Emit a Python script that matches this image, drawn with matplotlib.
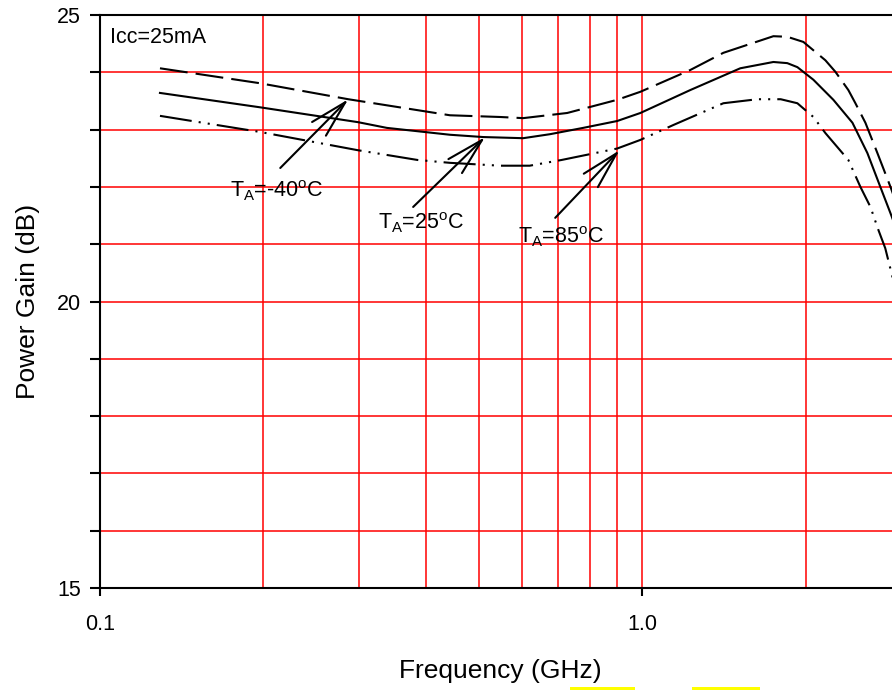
import numpy as np
import matplotlib
matplotlib.use("Agg")
import matplotlib.pyplot as plt
from matplotlib.patches import Rectangle
from matplotlib.ticker import FixedLocator, NullFormatter, FixedFormatter

plt.rcParams['font.family'] = ['Liberation Sans', 'DejaVu Sans']

# --- данные ---
freq_m40 = [0.129, 0.197, 0.287, 0.442, 0.547, 0.603, 0.727, 0.899, 0.992, 1.226,
            1.411, 1.745, 1.851, 1.982, 2.176, 2.270, 2.399, 2.472, 2.579, 2.714, 2.869, 3.0]
gain_m40 = [24.07, 23.81, 23.53, 23.25, 23.22, 23.20, 23.29, 23.52, 23.66, 24.04,
            24.34, 24.63, 24.62, 24.53, 24.21, 24.01, 23.69, 23.46, 23.12, 22.59, 22.00, 21.49]

freq_25 = [0.129, 0.197, 0.299, 0.338, 0.442, 0.509, 0.603, 0.676, 0.778, 0.899, 0.992,
           1.226, 1.516, 1.745, 1.851, 1.932, 2.068, 2.251, 2.441, 2.601, 2.748, 2.869, 3.0]
gain_25 = [23.64, 23.39, 23.13, 23.03, 22.91, 22.87, 22.85, 22.92, 23.03, 23.15, 23.29,
           23.69, 24.07, 24.18, 24.16, 24.09, 23.87, 23.52, 23.12, 22.59, 22.00, 21.54, 21.05]

freq_85 = [0.129, 0.197, 0.299, 0.385, 0.442, 0.547, 0.620, 0.710, 0.790, 0.899, 0.992,
           1.141, 1.411, 1.630, 1.800, 1.932, 2.068, 2.176, 2.399, 2.525, 2.635, 2.725,
           2.806, 2.893, 3.0]
gain_85 = [23.24, 22.96, 22.64, 22.47, 22.42, 22.37, 22.37, 22.47, 22.56, 22.67, 22.82,
           23.08, 23.46, 23.53, 23.53, 23.46, 23.22, 22.94, 22.47, 22.00, 21.65, 21.25,
           20.93, 20.43, 19.90]

# подписи: текст, позиция текста, начало стрелки, острие стрелки
labels = [r'T$_\mathregular{A}$=-40$^\mathregular{o}$C',
          r'T$_\mathregular{A}$=25$^\mathregular{o}$C',
          r'T$_\mathregular{A}$=85$^\mathregular{o}$C']
label_xy = [(0.1737, 21.82), (0.326, 21.25), (0.590, 21.02)]
arrow_from = [(0.215, 22.33), (0.378, 21.65), (0.691, 21.46)]
arrow_to = [(0.287, 23.53), (0.513, 22.87), (0.908, 22.64)]

y_major = [15, 20, 25]
y_minor = [16, 17, 18, 19, 21, 22, 23, 24]
x_major = [0.1, 1.0]
x_major_labels = ['0.1', '1.0']
x_minor = [0.2, 0.3, 0.4, 0.5, 0.6, 0.7, 0.8, 0.9, 2.0]

# --- рисование ---
fig = plt.figure(figsize=(8.92, 6.9), dpi=100)
ax = fig.add_axes([100 / 892, 102 / 690, 801 / 892, 573 / 690])

ax.set_xscale('log')
ax.set_xlim(0.1, 3.0)
ax.set_ylim(15, 25)

ax.xaxis.set_major_locator(FixedLocator(x_major))
ax.xaxis.set_major_formatter(FixedFormatter(x_major_labels))
ax.xaxis.set_minor_locator(FixedLocator(x_minor))
ax.xaxis.set_minor_formatter(NullFormatter())
ax.yaxis.set_major_locator(FixedLocator(y_major))
ax.yaxis.set_minor_locator(FixedLocator(y_minor))

ax.grid(True, which='both', color='#ff0000', linewidth=1.1)
ax.set_axisbelow(True)

ax.tick_params(axis='x', which='major', direction='out', length=6, width=1.5,
               labelsize=15.5, pad=13)
ax.tick_params(axis='x', which='minor', length=0)
ax.tick_params(axis='y', which='both', direction='out', length=7, width=1.5,
               labelsize=15.5, pad=6.5)
for s in ax.spines.values():
    s.set_linewidth(1.5)

ax.plot(freq_m40, gain_m40, color='black', lw=1.5, linestyle=(0, (13.4, 3.9)))
ax.plot(freq_25, gain_25, color='black', lw=1.5)
ax.plot(freq_85, gain_85, color='black', lw=1.5,
        linestyle=(0, (15.4, 3.4, 1, 3.4, 1, 3.4)))

for txt, pos, start, tip in zip(labels, label_xy, arrow_from, arrow_to):
    ax.text(pos[0], pos[1], txt, fontsize=15.5, ha='left', va='baseline')
    ax.annotate('', xy=tip, xytext=start,
                arrowprops=dict(arrowstyle='->, head_length=2.7, head_width=0.7',
                                mutation_scale=10, color='black', lw=1.5,
                                shrinkA=0, shrinkB=0))

ax.text(0.1045, 24.52, 'Icc=25mA', fontsize=15.5, ha='left', va='baseline')

ax.set_xlabel('Frequency (GHz)', fontsize=19, labelpad=17)
ax.set_ylabel('Power Gain (dB)', fontsize=19, labelpad=12)

# желтые метки внизу исходной картинки
for x0, x1 in [(570, 635), (692, 760)]:
    fig.add_artist(Rectangle((x0 / 892, 0), (x1 - x0) / 892, 3 / 690,
                             transform=fig.transFigure, color='#ffff00', lw=0))

fig.savefig('out.png', dpi=100)
